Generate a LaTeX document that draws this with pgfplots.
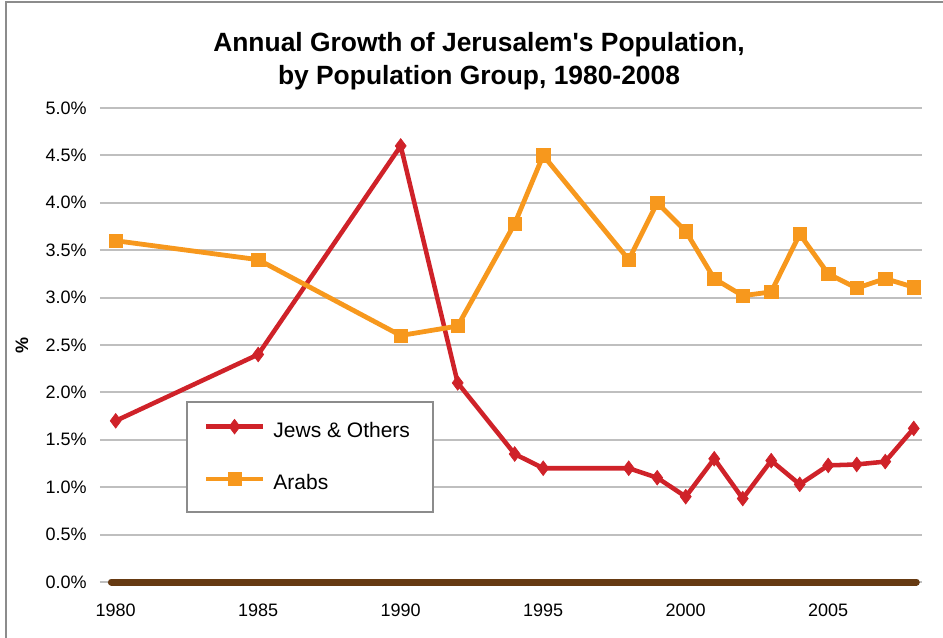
\documentclass[border=0pt]{standalone}
\usepackage{pgfplots}
\pgfplotsset{compat=1.18}
\usepackage{pgfplotstable}
\usepackage{fontspec}
\setmainfont{Liberation Sans}
\definecolor{jred}{HTML}{CF2229}
\definecolor{aor}{HTML}{F7981D}
\definecolor{zbrown}{HTML}{663A12}
\definecolor{gridg}{HTML}{BFBFBF}
\definecolor{frameg}{HTML}{8C8C8C}
\pgfplotstableread{
year val
1980 1.70
1985 2.40
1990 4.60
1992 2.10
1994 1.35
1995 1.20
1998 1.20
1999 1.10
2000 0.90
2001 1.30
2002 0.88
2003 1.28
2004 1.03
2005 1.23
2006 1.24
2007 1.27
2008 1.62
}\jews
\pgfplotstableread{
year val
1980 3.60
1985 3.40
1990 2.60
1992 2.70
1994 3.78
1995 4.50
1998 3.40
1999 4.00
2000 3.70
2001 3.20
2002 3.02
2003 3.06
2004 3.67
2005 3.25
2006 3.10
2007 3.20
2008 3.11
}\arabs
\begin{document}
\begin{tikzpicture}
\begin{scope}[x=0.75pt,y=-0.75pt]
\path[use as bounding box] (0,0) rectangle (943,638);
\draw[frameg, line width=1.5pt] (6,645) -- (6,2) -- (950,2);
\node[font=\bfseries\fontsize{19.8}{25}\selectfont, align=center] at (479,61.5) {Annual Growth of Jerusalem\textquotesingle s Population,\\by Population Group, 1980-2008};
\node[font=\bfseries\fontsize{13.5}{16}\selectfont, rotate=90] at (22,345) {\%};
\end{scope}
\begin{axis}[
  at={(75pt,-436.5pt)}, anchor=south west,
  width=616.5pt, height=355.5pt, scale only axis,
  xmin=1979.45, xmax=2008.29, ymin=0, ymax=5,
  clip=false,
  axis line style={draw=none},
  tick style={draw=none},
  ymajorgrids,
  major grid style={gridg, line width=1.5pt},
  xtick={1980,1985,1990,1995,2000,2005},
  ytick={0,0.5,...,5.01},
  /pgf/number format/assume math mode=true,
  /pgf/number format/1000 sep={},
  xticklabel style={font=\fontsize{13.5}{16}\selectfont, anchor=north, inner sep=0pt, yshift=-16.5pt},
  yticklabel style={font=\fontsize{13.5}{16}\selectfont, anchor=east, inner sep=0pt, xshift=-9.75pt},
  yticklabel={\pgfmathprintnumber[fixed,fixed zerofill,precision=1]{\tick}\%},
  legend cell align=left,
  legend style={at={(axis description cs:0.1046,0.1456)}, anchor=south west,
    draw=frameg, line width=1.5pt, fill=white,
    inner xsep=12.5pt, inner ysep=13pt, row sep=22.5pt,
    font=\fontsize{15.75}{18}\selectfont,
    nodes={inner sep=0pt, text height=11pt, text depth=3.5pt},
    /tikz/every odd column/.append style={column sep=6pt}},
  legend image code/.code={\draw[mark repeat=2,mark phase=2,#1] plot coordinates {(0pt,4.5pt) (21.375pt,4.5pt) (42.75pt,4.5pt)};},
]
\addplot[zbrown, line width=5.25pt, line cap=round, forget plot] coordinates {(1979.85,0) (2008.09,0)};
\addplot[jred, line width=3.4pt, mark=diamond*, mark size=5.5pt, mark options={solid, fill=jred, draw=jred, line width=0.5pt}] table[x=year,y=val] {\jews};
\addlegendentry{Jews \& Others\kern5pt}
\addplot[aor, line width=3.6pt, mark=square*, mark size=5pt, mark options={solid, fill=aor, draw=aor, line width=0.5pt}] table[x=year,y=val] {\arabs};
\addlegendentry{Arabs}
\end{axis}
\end{tikzpicture}
\end{document}
